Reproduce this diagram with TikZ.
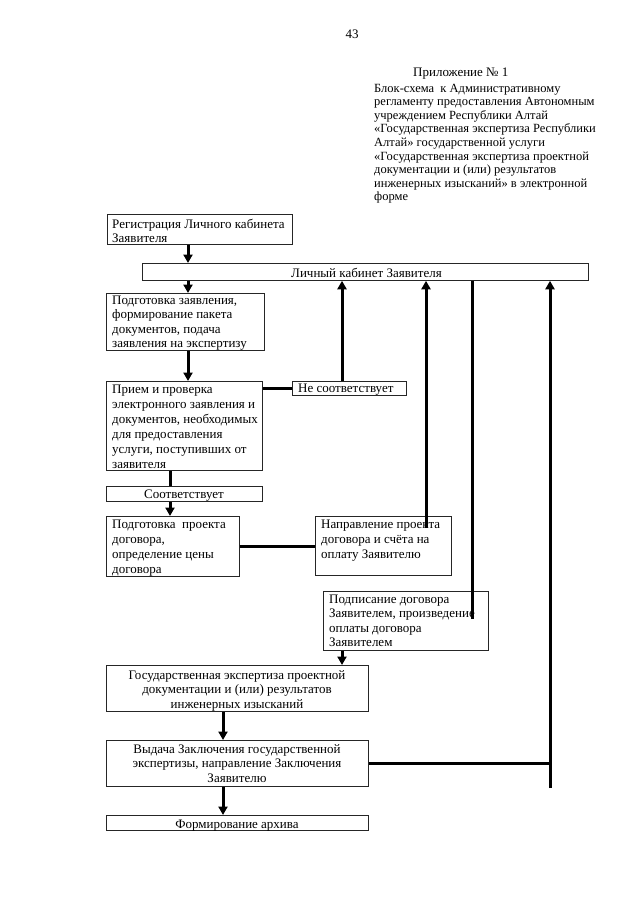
\documentclass[tikz,border=0pt]{standalone}
\usepackage{fontspec}
\setmainfont{Liberation Serif}
\usetikzlibrary{arrows.meta}
\begin{document}
\begin{tikzpicture}[x=1pt,y=-1pt,
  box/.style={draw=black!85,line width=0.8pt,inner sep=0pt,anchor=north west,rectangle},
  txt/.style={inner sep=0pt,anchor=base west,align=left,font=\fontsize{13}{14.5}\selectfont},
  txtw/.style={inner sep=0pt,anchor=base west,align=left,font=\fontsize{13}{15}\selectfont},
  ctxt/.style={inner sep=0pt,anchor=base,align=center,font=\fontsize{13}{14.5}\selectfont},
  hdr/.style={inner sep=0pt,anchor=base west,align=left,font=\fontsize{12.5}{13.6}\selectfont},
  link/.style={line width=3pt},
  arr/.style={line width=3pt,-{Triangle[width=9pt,length=8.5pt]}}
]
\fill[white] (0,0) rectangle (640,905);
\path[use as bounding box] (0,0) rectangle (640,905);

% header
\node[ctxt] (pnum) at (352,38) {43};
\node[txt] (app) at (413,76) {Приложение № 1};
\node[hdr] (hdrT) at (374,200.8) {Блок-схема\ \ к Административному\\регламенту предоставления Автономным\\учреждением Республики Алтай\\«Государственная экспертиза Республики\\Алтай» государственной услуги\\«Государственная экспертиза проектной\\документации и (или) результатов\\инженерных изысканий» в электронной\\форме};

% boxes
\node[box,minimum width=185,minimum height=30] (reg) at (107,214) {};
\node[box,minimum width=446,minimum height=17] (lk) at (142,263) {};
\node[box,minimum width=158,minimum height=57] (podg) at (106,293) {};
\node[box,minimum width=156,minimum height=89] (priem) at (106,381) {};
\node[box,minimum width=114,minimum height=14] (ne) at (292,381) {};
\node[box,minimum width=156,minimum height=15] (sootv) at (106,486) {};
\node[box,minimum width=133,minimum height=60] (proekt) at (106,516) {};
\node[box,minimum width=136,minimum height=59] (napr) at (315,516) {};
\node[box,minimum width=165,minimum height=59] (podp) at (323,591) {};
\node[box,minimum width=262,minimum height=46] (gos) at (106,665) {};
\node[box,minimum width=262,minimum height=46] (vyd) at (106,740) {};
\node[box,minimum width=262,minimum height=15] (arch) at (106,815) {};

% texts (anchored at the baseline of the last line)
\node[txt] (regT) at (112,242.5) {Регистрация Личного кабинета\\Заявителя};
\node[txt] (lkT) at (291,277) {Личный кабинет Заявителя};
\node[txt] (podgT) at (112,347.5) {Подготовка заявления,\\формирование пакета\\документов, подача\\заявления на экспертизу};
\node[txtw] (priemT) at (112,468) {Прием и проверка\\электронного заявления и\\документов, необходимых\\для предоставления\\услуги, поступивших от\\заявителя};
\node[txt] (neT) at (298,392) {Не соответствует};
\node[ctxt] (sootvT) at (184,498) {Соответствует};
\node[txtw] (proektT) at (112,573) {Подготовка\ \ проекта\\договора,\\определение цены\\договора};
\node[txtw] (naprT) at (321,558) {Направление проекта\\договора и счёта на\\оплату Заявителю};
\node[txt] (podpT) at (329,646.5) {Подписание договора\\Заявителем, произведение\\оплаты договора\\Заявителем};
\node[ctxt] (gosT) at (237,708) {Государственная экспертиза проектной\\документации и (или) результатов\\инженерных изысканий};
\node[ctxt] (vydT) at (237,782) {Выдача Заключения государственной\\экспертизы, направление Заключения\\Заявителю};
\node[ctxt] (archT) at (237,828) {Формирование архива};

% column coordinates
\coordinate (xa) at (188,0);
\coordinate (xb) at (170,0);
\coordinate (xc) at (342,0);
\coordinate (xg) at (223,0);
\coordinate (xf) at (550,0);
\coordinate (naprIn) at (426,528);
\coordinate (podpIn) at (472,619);
\coordinate (vertEnd) at (550,788);

% connectors
\draw[arr] (reg.south -| xa) -- (lk.north -| xa);
\draw[arr] (lk.south -| xa) -- (podg.north -| xa);
\draw[arr] (podg.south -| xa) -- (priem.north -| xa);
\draw[link] (ne.west) -- (ne.west -| priem.east);
\draw[arr] (ne.north -| xc) -- (lk.south -| xc);
\draw[link] (priem.south -| xb) -- (sootv.north -| xb);
\draw[arr] (sootv.south -| xb) -- (proekt.north -| xb);
\draw[link] (proekt.east) -- (proekt.east -| napr.west);
\draw[arr] (naprIn) -- (lk.south -| naprIn);
\draw[link] (lk.south -| podpIn) -- (podpIn);
\draw[arr] (podp.south -| xc) -- (gos.north -| xc);
\draw[arr] (gos.south -| xg) -- (vyd.north -| xg);
\draw[link] (vyd.east) -- (vyd.east -| xf);
\draw[arr] (vertEnd) -- (lk.south -| vertEnd);
\draw[arr] (vyd.south -| xg) -- (arch.north -| xg);
\end{tikzpicture}
\end{document}
